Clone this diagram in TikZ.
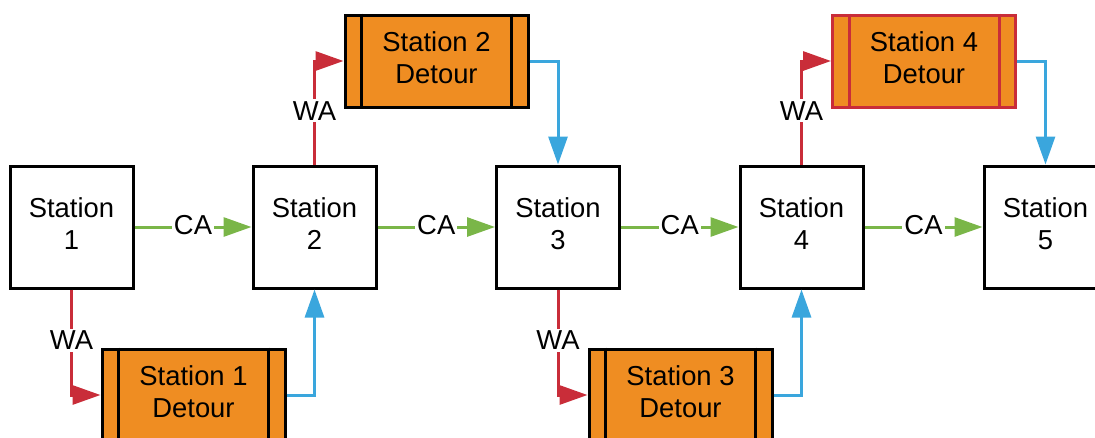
\documentclass[tikz,border=0pt]{standalone}
\usepackage{fontspec}
\setmainfont{Liberation Sans}
\usetikzlibrary{arrows.meta}
\definecolor{caGreen}{HTML}{7AB648}
\definecolor{waRed}{HTML}{C92D39}
\definecolor{fbBlue}{HTML}{3AA6DD}
\definecolor{detOrange}{HTML}{EF8D22}
\begin{document}
\begin{tikzpicture}[x=1pt,y=-1pt,
  font=\fontsize{27.4}{32}\selectfont,
  station/.style={draw=black,line width=3pt,fill=white,minimum width=123pt,minimum height=122pt,inner sep=0pt},
  detour/.style={draw=black,line width=3pt,fill=detOrange,minimum width=183pt,minimum height=92pt,inner sep=0pt},
  txt/.style={align=center,inner sep=0pt,yshift=3.5pt},
  tip/.style={-{Triangle[length=28pt,width=19pt]}},
  ca/.style={tip,draw=caGreen,line width=3pt},
  wa/.style={tip,draw=waRed,line width=3pt},
  fb/.style={tip,draw=fbBlue,line width=3pt},
  lab/.style={fill=white,text=black,inner sep=2pt,yshift=2pt}
]
\useasboundingbox (0,0) rectangle (1095,437);
% stations
\node[station] (s1) at (71.5,227) {};
\node[station] (s2) at (314.5,227) {};
\node[station] (s3) at (558,227) {};
\node[station] (s4) at (801.5,227) {};
\node[station] (s5) at (1045.5,227) {};
\node[txt] (t1) at (s1.center) {Station\\1};
\node[txt] (t2) at (s2.center) {Station\\2};
\node[txt] (t3) at (s3.center) {Station\\3};
\node[txt] (t4) at (s4.center) {Station\\4};
\node[txt] (t5) at (s5.center) {Station\\5};
% detours
\node[detour] (d1) at (193.5,395) {};
\node[detour] (d2) at (436.5,61) {};
\node[detour] (d3) at (680.5,395) {};
\node[detour,draw=waRed] (d4) at (924,61) {};
\foreach \d/\c in {d1/black,d2/black,d3/black,d4/waRed}{
  \draw[line width=3pt,\c] ([xshift=18pt]\d.north west) -- ([xshift=18pt]\d.south west);
  \draw[line width=3pt,\c] ([xshift=-18pt]\d.north east) -- ([xshift=-18pt]\d.south east);
}
\node[txt] (u1) at (d1.center) {Station 1\\Detour};
\node[txt] (u2) at (d2.center) {Station 2\\Detour};
\node[txt] (u3) at (d3.center) {Station 3\\Detour};
\node[txt] (u4) at (d4.center) {Station 4\\Detour};
% CA connectors
\draw[ca] (s1.east) -- node[lab]{CA} (s2.west);
\draw[ca] (s2.east) -- node[lab]{CA} (s3.west);
\draw[ca] (s3.east) -- node[lab]{CA} (s4.west);
\draw[ca] (s4.east) -- node[lab]{CA} (s5.west);
% WA connectors
\draw[wa] (s1.south) |- node[lab,pos=0.25]{WA} (d1.west);
\draw[wa] (s2.north) |- node[lab,pos=0.25]{WA} (d2.west);
\draw[wa] (s3.south) |- node[lab,pos=0.25]{WA} (d3.west);
\draw[wa] (s4.north) |- node[lab,pos=0.25]{WA} (d4.west);
% return connectors
\draw[fb] (d1.east) -| (s2.south);
\draw[fb] (d2.east) -| (s3.north);
\draw[fb] (d3.east) -| (s4.south);
\draw[fb] (d4.east) -| (s5.north);
\end{tikzpicture}
\end{document}
